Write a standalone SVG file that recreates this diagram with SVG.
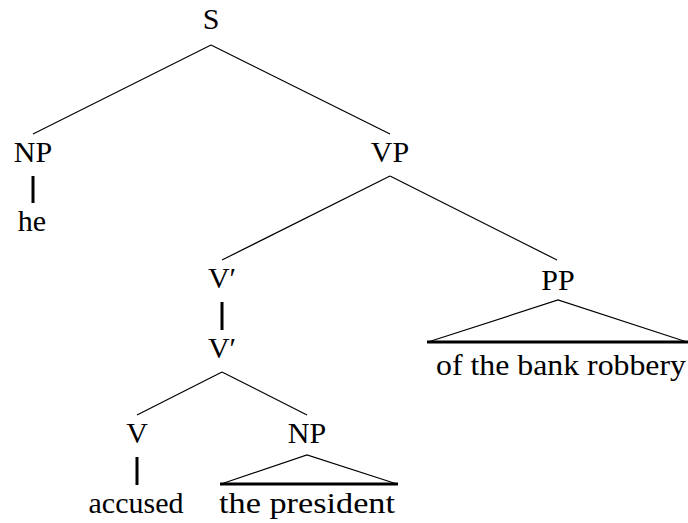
<svg xmlns="http://www.w3.org/2000/svg" width="688" height="523" viewBox="0 0 688 523">
<style>
text{font-family:'Liberation Serif','DejaVu Serif',serif;font-size:30px;fill:#000;text-anchor:middle}
.e{stroke:#000;stroke-width:1.2;fill:none}
.u{stroke:#000;stroke-width:3;fill:none}
</style>
<rect width="688" height="523" fill="#fff"/>
<g id="connectors">
<line class="e" x1="211" y1="45" x2="33" y2="134"/>
<line class="e" x1="211" y1="45" x2="390" y2="134"/>
<line class="u" x1="33" y1="176" x2="33" y2="203"/>
<line class="e" x1="390" y1="176" x2="222" y2="260"/>
<line class="e" x1="390" y1="176" x2="557" y2="260"/>
<line class="u" x1="222" y1="302" x2="222" y2="330"/>
<line class="e" x1="222" y1="372" x2="137" y2="415"/>
<line class="e" x1="222" y1="372" x2="307" y2="415"/>
<line class="u" x1="137" y1="457" x2="137" y2="485"/>
<path class="e" d="M221,484 L307,455 L397,484"/>
<line class="u" x1="220" y1="484" x2="398" y2="484"/>
<path class="e" d="M428,342 L558,300 L687,342"/>
<line class="u" x1="427" y1="342" x2="688" y2="342"/>
</g>
<g id="n-S"><text x="211" y="29">S</text></g>
<g id="n-NP1"><text x="33" y="162">NP</text></g>
<g id="n-he"><text x="32" y="231">he</text></g>
<g id="n-VP"><text x="390" y="162">VP</text></g>
<g id="n-Vbar1"><text x="222" y="288">V′</text></g>
<g id="n-PP"><text x="558" y="290">PP</text></g>
<g id="n-PPtext"><text x="561" y="375" textLength="250" lengthAdjust="spacingAndGlyphs">of the bank robbery</text></g>
<g id="n-Vbar2"><text x="222" y="358">V′</text></g>
<g id="n-V"><text x="137" y="443">V</text></g>
<g id="n-NP2"><text x="307" y="443">NP</text></g>
<g id="n-accused"><text x="136" y="513">accused</text></g>
<g id="n-NPtext"><text x="307" y="513" textLength="176" lengthAdjust="spacingAndGlyphs">the president</text></g>
</svg>
